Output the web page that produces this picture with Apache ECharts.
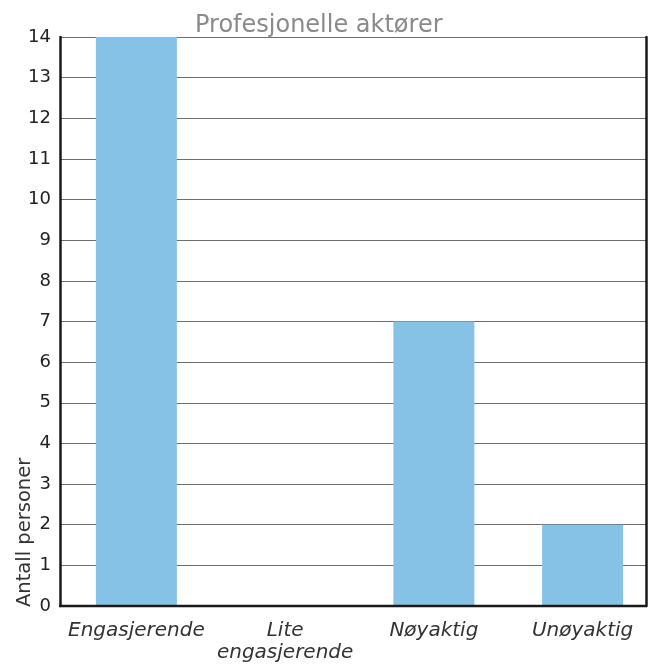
<!DOCTYPE html>
<html>
<head>
<meta charset="utf-8">
<script src="https://cdn.jsdelivr.net/npm/echarts@6/dist/echarts.min.js"></script>
<style>
  html, body { margin: 0; padding: 0; background: #fff; }
  #chart { width: 657px; height: 666px; }
</style>
</head>
<body>
<div id="chart"></div>
<script>
const categories = ['Engasjerende', 'Lite\nengasjerende', 'Nøyaktig', 'Unøyaktig'];
const counts = [14, 0, 7, 2];
const yTicks = { min: 0, max: 14, interval: 1 };

const FONT = 'DejaVu Sans';
const chart = echarts.init(document.getElementById('chart'), null, { renderer: 'canvas' });

chart.setOption({
  animation: false,
  backgroundColor: '#ffffff',
  title: {
    text: 'Profesjonelle aktører',
    left: 190,
    top: 9,
    textStyle: { fontFamily: FONT, fontSize: 24, fontWeight: 'normal', color: '#8a8a8a' }
  },
  grid: [
    { left: 60, right: 11, top: 37, bottom: 60, containLabel: false },
    { left: 62, right: 0, top: 37, bottom: 60, containLabel: false }
  ],
  xAxis: [
    { type: 'value', gridIndex: 0, show: false, min: 0, max: 1 },
    {
      type: 'category', gridIndex: 1, data: categories,
      axisLine: { show: false }, axisTick: { show: false },
      axisLabel: {
        interval: 0, margin: 14, fontFamily: FONT, fontSize: 20, fontStyle: 'italic',
        color: '#333', lineHeight: 22
      }
    }
  ],
  yAxis: [
    {
      type: 'value', gridIndex: 0, min: yTicks.min, max: yTicks.max, interval: yTicks.interval,
      axisLine: { show: true, lineStyle: { color: '#1a1a1a', width: 2.5 } },
      axisTick: { show: false },
      splitLine: { show: true, lineStyle: { color: '#6e6e6e', width: 1.2 } },
      axisLabel: { margin: 9, fontFamily: FONT, fontSize: 18, color: '#222' }
    },
    {
      type: 'value', gridIndex: 0, position: 'right', min: yTicks.min, max: yTicks.max, interval: yTicks.interval,
      axisLine: { show: true, lineStyle: { color: '#1a1a1a', width: 2.5 } },
      axisTick: { show: false }, axisLabel: { show: false }, splitLine: { show: false }
    },
    { type: 'value', gridIndex: 1, min: yTicks.min, max: yTicks.max, show: false }
  ],
  graphic: [
    {
      type: 'line', z: 10,
      shape: { x1: 59, y1: 606, x2: 647, y2: 606 },
      style: { stroke: '#1a1a1a', lineWidth: 2.5 }
    },
    {
      type: 'text', x: 25, y: 607, rotation: Math.PI / 2,
      style: {
        text: 'Antall personer', fontFamily: FONT, fontSize: 19.5, fill: '#333',
        textAlign: 'left', textVerticalAlign: 'middle'
      }
    }
  ],
  series: [
    {
      type: 'bar', xAxisIndex: 1, yAxisIndex: 2,
      data: counts, barWidth: 81,
      itemStyle: { color: '#86c2e6' }
    }
  ]
});
</script>
</body>
</html>
